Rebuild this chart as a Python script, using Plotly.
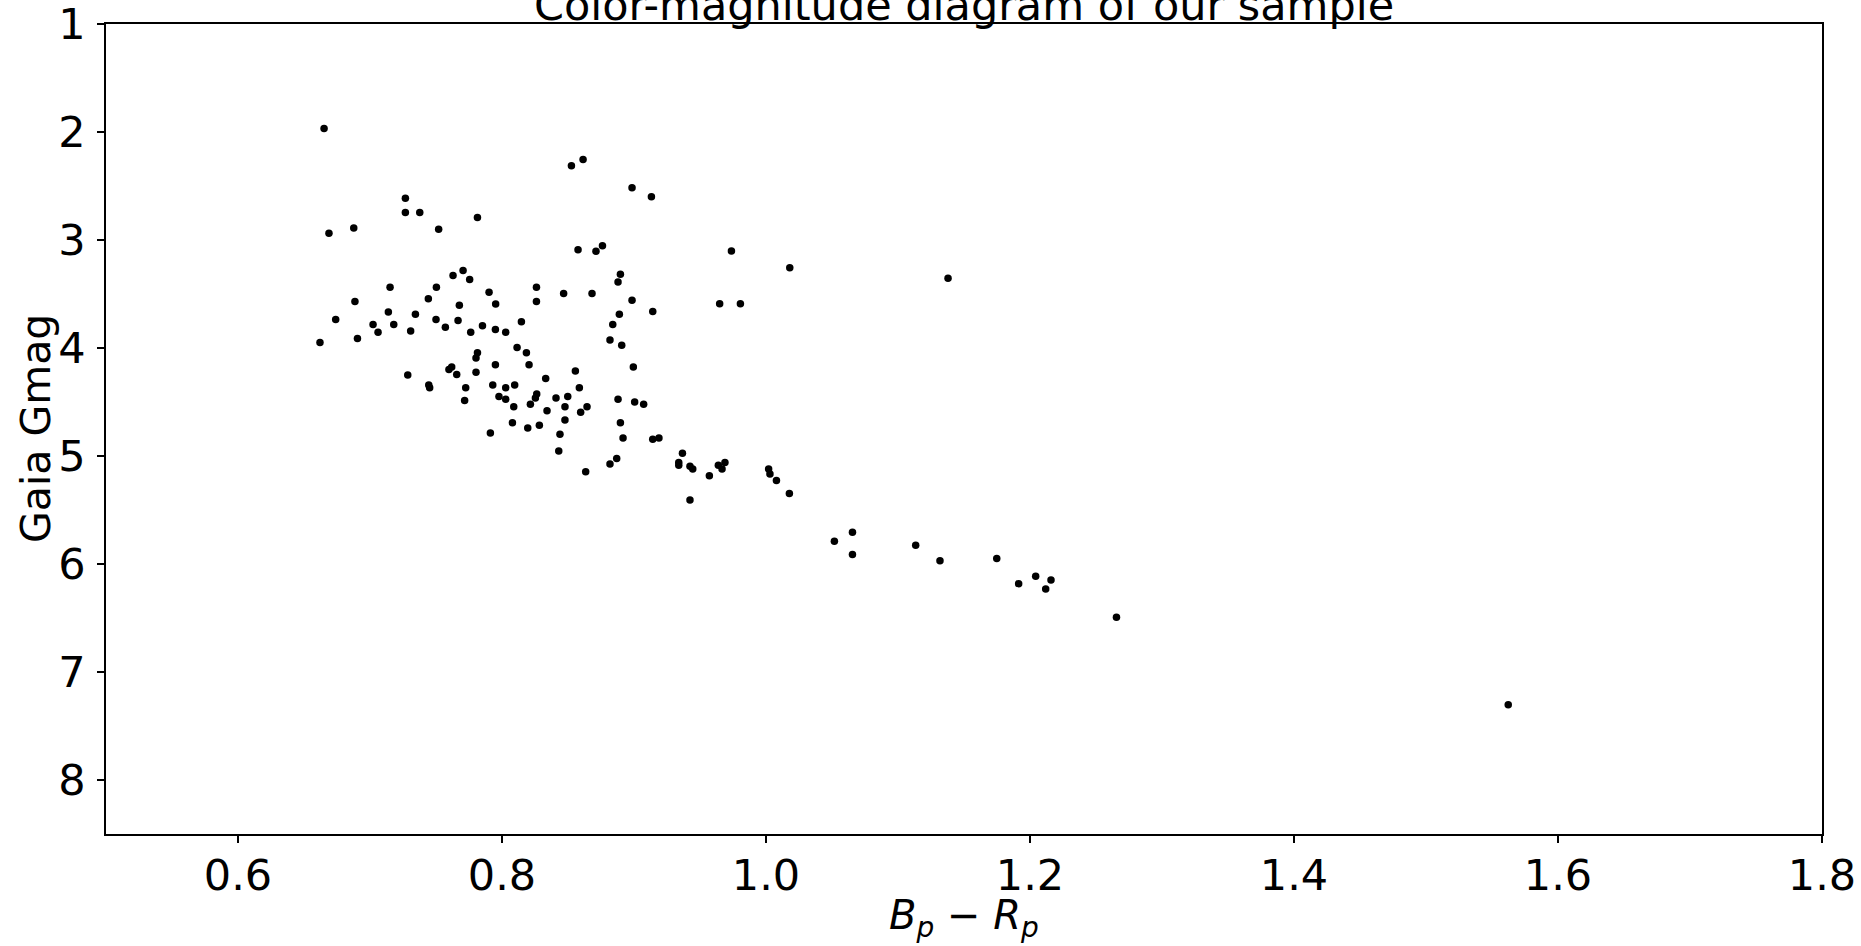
import plotly.graph_objects as go

# Bp - Rp colour index
bp_rp = [
    0.6652, 0.8526, 0.8614, 0.8985, 0.9132, 0.7268, 0.7268, 0.7377, 0.7814, 0.6689,
    0.6877, 0.7520, 0.8576, 0.8712, 0.8761, 0.8897, 0.8879, 0.7629, 0.7705, 0.7755,
    0.7152, 0.7503, 0.8261, 0.8261, 0.8467, 0.8682, 0.8985, 0.9142, 0.6886, 0.6740,
    0.7139, 0.7442, 0.7677, 0.7902, 0.7952, 0.7344, 0.7023, 0.7061, 0.7180, 0.7308,
    0.7500, 0.7571, 0.7667, 0.7763, 0.7852, 0.7950, 0.8028, 0.8147, 0.6621, 0.6905,
    0.8889, 0.8839, 0.8818, 0.8907, 0.8114, 0.8185, 0.8205, 0.7814, 0.7803, 0.7286,
    0.7598, 0.7619, 0.7657, 0.7803, 0.7950, 0.8331, 0.8556, 0.8995, 0.7445, 0.7452,
    0.7725, 0.7930, 0.8028, 0.8096, 0.8586, 0.7977, 0.8028, 0.7717, 0.8263, 0.8253,
    0.8409, 0.8498, 0.8089, 0.8215, 0.8341, 0.8477, 0.8596, 0.8644, 0.8879, 0.9005,
    0.9073, 0.8079, 0.8195, 0.8283, 0.8477, 0.8439, 0.8897, 0.8917, 0.9142, 0.9189,
    0.7912, 0.8430, 0.8818, 0.8869, 0.8634, 0.9738, 1.0180, 0.9649, 0.9806, 1.1379,
    0.9367, 0.9339, 0.9339, 0.9424, 0.9445, 0.9571, 0.9424, 0.9639, 0.9667, 0.9689,
    1.0020, 1.0030, 1.0079, 1.0177, 1.0518, 1.0655, 1.0655, 1.1134, 1.1318, 1.1748,
    1.1914, 1.2043, 1.2119, 1.2159, 1.2655, 1.5623,
]

# Gaia G magnitude
gmag = [
    1.968, 2.313, 2.255, 2.517, 2.600, 2.613, 2.746, 2.746, 2.792, 2.938,
    2.888, 2.901, 3.091, 3.104, 3.054, 3.317, 3.388, 3.329, 3.283, 3.366,
    3.438, 3.438, 3.438, 3.570, 3.496, 3.496, 3.558, 3.663, 3.570, 3.737,
    3.666, 3.545, 3.604, 3.484, 3.592, 3.688, 3.783, 3.854, 3.783, 3.842,
    3.737, 3.808, 3.746, 3.854, 3.795, 3.829, 3.854, 3.758, 3.950, 3.913,
    3.688, 3.783, 3.925, 3.975, 3.996, 4.045, 4.154, 4.045, 4.092, 4.249,
    4.200, 4.175, 4.246, 4.225, 4.154, 4.283, 4.212, 4.175, 4.342, 4.367,
    4.367, 4.342, 4.367, 4.342, 4.367, 4.450, 4.475, 4.487, 4.425, 4.462,
    4.462, 4.450, 4.545, 4.521, 4.582, 4.545, 4.595, 4.545, 4.475, 4.499,
    4.521, 4.691, 4.740, 4.716, 4.666, 4.799, 4.691, 4.833, 4.845, 4.833,
    4.786, 4.953, 5.073, 5.024, 5.145, 3.101, 3.258, 3.591, 3.591, 3.354,
    4.975, 5.061, 5.086, 5.096, 5.120, 5.182, 5.407, 5.086, 5.120, 5.061,
    5.120, 5.166, 5.228, 5.348, 5.790, 5.707, 5.911, 5.827, 5.969, 5.948,
    6.182, 6.114, 6.231, 6.148, 6.494, 7.303,
]

x_ticks = [0.6, 0.8, 1.0, 1.2, 1.4, 1.6, 1.8]
y_ticks = [1, 2, 3, 4, 5, 6, 7, 8]

FONT = "DejaVu Sans"

fig = go.Figure()
fig.add_trace(go.Scatter(
    x=bp_rp, y=gmag, mode="markers",
    marker=dict(color="black", size=7.5, line=dict(width=0)),
    showlegend=False, cliponaxis=False,
))

axis_common = dict(
    showline=True, linecolor="black", linewidth=1.5, mirror=True,
    ticks="outside", ticklen=7, tickwidth=1.5, tickcolor="black",
    showgrid=False, zeroline=False, automargin=False,
    ticklabeloverflow="allow",
    tickfont=dict(family=FONT, size=43, color="black"),
)

fig.update_layout(
    width=1861, height=946,
    margin=dict(l=106, r=39, t=24, b=112, autoexpand=False),
    paper_bgcolor="white", plot_bgcolor="white",
    font=dict(family=FONT, color="black"),
    xaxis=dict(range=[0.5, 1.8], tickvals=x_ticks, tickformat=".1f",
               ticklabelstandoff=-4, **axis_common),
    yaxis=dict(range=[8.5, 1], tickvals=y_ticks, ticklabelstandoff=3, **axis_common),
    annotations=[
        dict(text="Color-magnitude diagram of our sample",
             xref="paper", yref="paper", x=0.5, y=1, xanchor="center", yanchor="bottom",
             showarrow=False, font=dict(family=FONT, size=43, color="black"), yshift=-8),
        dict(text="<i>B</i><sub><i>p</i></sub> − <i>R</i><sub><i>p</i></sub>",
             xref="paper", yref="paper", x=0.5, y=0, xanchor="center", yanchor="middle",
             showarrow=False, font=dict(family=FONT, size=40, color="black"), yshift=-84),
        dict(text="Gaia Gmag", textangle=-90,
             xref="paper", yref="paper", x=0, y=0.5, xanchor="center", yanchor="middle",
             showarrow=False, font=dict(family=FONT, size=41, color="black"), xshift=-70),
    ],
)

fig.write_html(
    "out.html",
    config={"displayModeBar": False},
    post_script="document.documentElement.style.margin='0';document.body.style.margin='0';document.body.style.overflow='hidden';",
)
